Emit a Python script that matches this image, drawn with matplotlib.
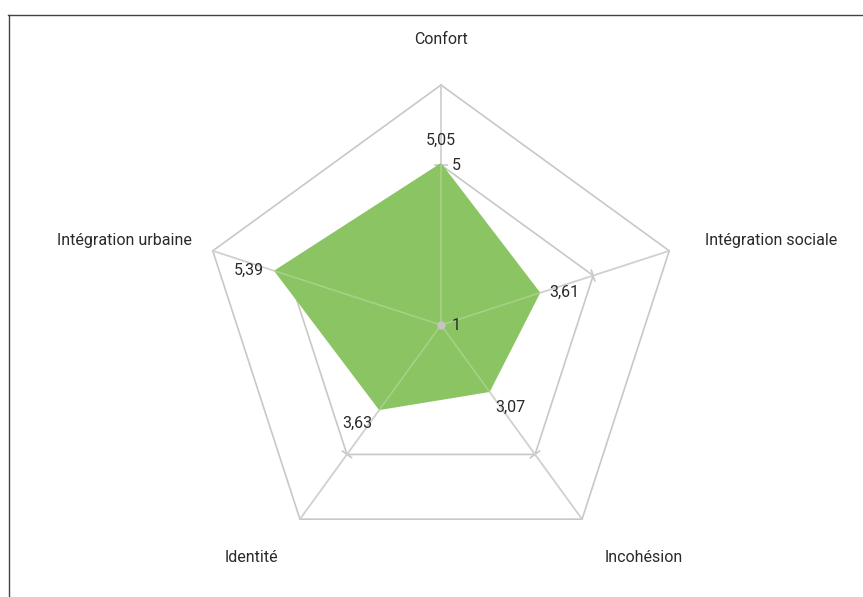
import numpy as np
import matplotlib
matplotlib.use("Agg")
import matplotlib.pyplot as plt
from matplotlib.lines import Line2D

plt.rcParams['font.family'] = ['Roboto', 'DejaVu Sans']

categories = ["Confort", "Intégration sociale", "Incohésion", "Identité", "Intégration urbaine"]
values = [5.05, 3.61, 3.07, 3.63, 5.39]
value_labels = ["5,05", "3,61", "3,07", "3,63", "5,39"]
grid_levels = [3, 5, 7]
r_min, r_max = 1, 7
axis_tick_values = [1, 5]
axis_tick_labels = ["1", "5"]

W, H = 863, 597
fig = plt.figure(figsize=(W / 100, H / 100), dpi=100)
cx, cy, R = 441, 325, 240
ax = fig.add_axes([(cx - R) / W, (H - cy - R) / H, 2 * R / W, 2 * R / H], projection='polar')
ax.set_theta_zero_location('N')
ax.set_theta_direction(-1)
ax.set_ylim(r_min, r_max)
ax.axis('off')

n = len(categories)
theta = np.linspace(0, 2 * np.pi, n, endpoint=False)
theta_c = np.append(theta, theta[0])

grid_col = '#c8c8c8'
text_col = '#2a2a2a'
fs = 11.5

# pentagon rings
for lv in grid_levels:
    ax.plot(theta_c, [lv] * (n + 1), color=grid_col, lw=1.2, zorder=1, clip_on=False)
# spokes (under fill)
for t in theta:
    ax.plot([t, t], [r_min, r_max], color=grid_col, lw=1.2, zorder=1, clip_on=False)

# tick marks on spokes at level 5
for t in theta:
    ax.plot([t - 0.035, t + 0.035], [5, 5], color=grid_col, lw=1.2, zorder=1)

# data polygon
vals_c = np.append(values, values[0])
ax.fill(theta_c, vals_c, color='#8bc462', zorder=2, lw=0)

# spokes faint over fill
for t in theta:
    ax.plot([t, t], [r_min, r_max], color='#d8e8d0', lw=1.2, alpha=0.35, zorder=3)

# center dot
ax.plot([0], [r_min], marker='o', ms=6, color='#c9c0c8', mec='none', zorder=4, clip_on=False)

# category labels
cat_offsets = [(0, 45, 'center'), (36, 10, 'left'), (62, -38, 'center'), (-48, -38, 'center'), (-21, 10, 'right')]
for t, lab, (dx, dy, ha) in zip(theta, categories, cat_offsets):
    ax.annotate(lab, xy=(t, r_max), xytext=(dx, dy), textcoords='offset pixels',
                ha=ha, va='center', fontsize=fs, color=text_col, annotation_clip=False)

# value labels
val_offsets = [(0, 23, 'center'), (9, 0, 'left'), (21, -15, 'center'), (-22, -13, 'center'), (-10, 0, 'right')]
for t, v, lab, (dx, dy, ha) in zip(theta, values, value_labels, val_offsets):
    ax.annotate(lab, xy=(t, v), xytext=(dx, dy), textcoords='offset pixels',
                ha=ha, va='center', fontsize=fs, color=text_col, zorder=5, annotation_clip=False)

# axis tick labels along Confort axis
for v, lab in zip(axis_tick_values, axis_tick_labels):
    ax.annotate(lab, xy=(0, v), xytext=(11, 0), textcoords='offset pixels',
                ha='left', va='center', fontsize=fs, color=text_col, zorder=5, annotation_clip=False)

# outer frame lines
fig.add_artist(Line2D([8 / W, 1], [1 - 14.5 / H, 1 - 14.5 / H], color='#444444', lw=1.0, transform=fig.transFigure))
fig.add_artist(Line2D([8.5 / W, 8.5 / W], [0, 1 - 14.5 / H], color='#444444', lw=1.0, transform=fig.transFigure))

fig.savefig('out.png', dpi=100)
